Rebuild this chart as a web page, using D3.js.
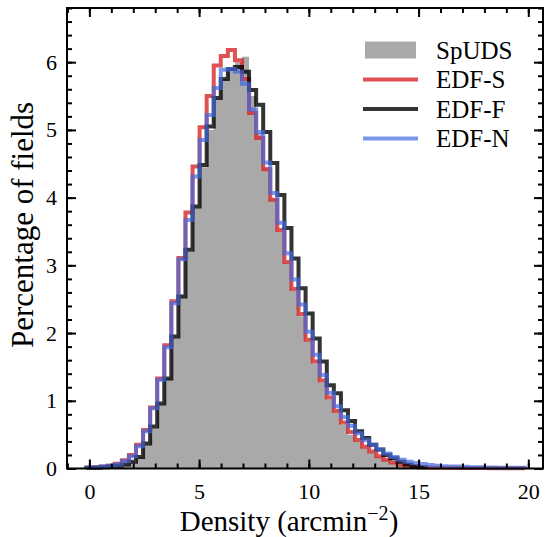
<!DOCTYPE html>
<html>
<head>
<meta charset="utf-8">
<script src="https://cdn.jsdelivr.net/npm/d3@7/dist/d3.min.js"></script>
<style>
  body { margin: 0; background: #fff; }
  text { font-family: "Liberation Serif", "DejaVu Serif", serif; fill: #000; }
</style>
</head>
<body>
<div id="chart"></div>
<script>
// bin layout of the histograms (arcmin^-2)
var binStart = -0.13, binWidth = 0.322;

// percentage of fields per bin
var spuds = [0, 0, 0.01, 0.02, 0.03, 0.05, 0.09, 0.17, 0.35, 0.6, 0.95, 1.33, 1.93, 2.52, 3.2, 3.85,
  4.45, 5.0, 5.45, 5.75, 5.9, 6.0, 6.08, 5.5, 4.95, 4.45, 3.98, 3.5, 3.03, 2.62, 2.25, 1.88,
  1.55, 1.27, 1.02, 0.82, 0.65, 0.5, 0.4, 0.3, 0.23, 0.17, 0.12, 0.08, 0.05, 0.03, 0.02, 0.01];
var edfS = [0.01, 0.02, 0.03, 0.04, 0.07, 0.12, 0.2, 0.35, 0.57, 0.9, 1.33, 1.82, 2.47, 3.11, 3.78, 4.46,
  5.04, 5.5, 5.95, 6.09, 6.18, 6.03, 5.75, 5.25, 4.88, 4.42, 3.97, 3.52, 3.05, 2.65, 2.28, 1.9,
  1.58, 1.3, 1.05, 0.85, 0.68, 0.54, 0.42, 0.32, 0.25, 0.18, 0.13, 0.09, 0.06, 0.04, 0.03, 0.02,
  0.015, 0.012, 0.01, 0.01, 0.01, 0.008, 0.008, 0.006, 0.006, 0.005, 0.005, 0.005, 0.004, 0.004];
var edfF = [0.01, 0.01, 0.02, 0.03, 0.04, 0.06, 0.1, 0.17, 0.37, 0.62, 0.96, 1.33, 1.95, 2.54, 3.23, 3.87,
  4.48, 5.05, 5.47, 5.75, 5.9, 5.93, 5.86, 5.59, 5.37, 4.97, 4.51, 4.04, 3.55, 3.1, 2.66, 2.29,
  1.92, 1.58, 1.23, 1.11, 0.86, 0.7, 0.55, 0.45, 0.35, 0.28, 0.2, 0.15, 0.1, 0.06, 0.03, 0.02];
var edfN = [0.01, 0.02, 0.03, 0.04, 0.06, 0.11, 0.18, 0.33, 0.55, 0.89, 1.31, 1.79, 2.44, 3.09, 3.67, 4.31,
  4.85, 5.22, 5.62, 5.89, 5.9, 5.86, 5.68, 5.3, 4.97, 4.52, 4.07, 3.63, 3.18, 2.79, 2.42, 2.02,
  1.68, 1.38, 1.12, 0.92, 0.76, 0.63, 0.52, 0.42, 0.35, 0.28, 0.22, 0.17, 0.13, 0.1, 0.08, 0.065,
  0.05, 0.04, 0.035, 0.03, 0.03, 0.025, 0.02, 0.02, 0.015, 0.015, 0.012, 0.01, 0.01, 0.01];

var xTicks = [0, 5, 10, 15, 20];
var yTicks = [0, 1, 2, 3, 4, 5, 6];
var legendLabels = ["SpUDS", "EDF-S", "EDF-F", "EDF-N"];

var W = 553, H = 537;
var frame = {left: 67, right: 543, top: 8, bottom: 468.5};

var svg = d3.select("#chart").append("svg")
  .attr("width", W)
  .attr("height", H);

var x = d3.scaleLinear().domain([-1.02, 20.67]).range([frame.left, frame.right]);
var y = d3.scaleLinear().domain([0, 6.8]).range([frame.bottom, frame.top]);

// step outline of a histogram, starting and ending on the baseline
function stepPoints(vals) {
  var pts = [[binStart, 0]];
  vals.forEach(function (v, i) { pts.push([binStart + i * binWidth, v]); });
  pts.push([binStart + vals.length * binWidth, 0]);
  return pts;
}

var step = d3.line()
  .x(function (d) { return x(d[0]); })
  .y(function (d) { return y(d[1]); })
  .curve(d3.curveStepAfter);

var plot = svg.append("g");

// filled SpUDS histogram
plot.append("path")
  .attr("d", step(stepPoints(spuds)) + "Z")
  .attr("fill", "#a9a9a9")
  .attr("stroke", "none");

var lines = [
  {vals: edfS, color: "#d62728", opacity: 0.8},
  {vals: edfF, color: "#000000", opacity: 0.8},
  {vals: edfN, color: "#4169e1", opacity: 0.7}
];

lines.forEach(function (l) {
  plot.append("path")
    .attr("d", step(stepPoints(l.vals)))
    .attr("fill", "none")
    .attr("stroke", l.color)
    .attr("stroke-opacity", l.opacity)
    .attr("stroke-width", 4)
    .attr("stroke-linejoin", "miter");
});

// axes: inward ticks on all four sides
var major = 9, minor = 5;
var xMinor = d3.range(-1, 21, 1), yMinor = d3.range(0, 6.81, 0.2);

function tickAxis(axis, pos, ticks, len, labelled, pad) {
  var a = axis.tickValues(ticks).tickSize(-len).tickPadding(pad || 0);
  a.tickFormat(labelled ? d3.format("d") : "");
  var g = svg.append("g").attr("transform", pos).call(a);
  g.select(".domain").remove();
  g.selectAll(".tick line").attr("stroke", "#000").attr("stroke-width", 2);
  g.selectAll("text").attr("font-size", 22).attr("font-family", "Liberation Serif, serif");
  return g;
}

var bottom = "translate(0," + frame.bottom + ")", topT = "translate(0," + frame.top + ")";
var leftT = "translate(" + frame.left + ",0)", rightT = "translate(" + frame.right + ",0)";

tickAxis(d3.axisBottom(x), bottom, xMinor, minor, false);
tickAxis(d3.axisBottom(x), bottom, xTicks, major, true, 15);
tickAxis(d3.axisTop(x), topT, xMinor, minor, false);
tickAxis(d3.axisTop(x), topT, xTicks, major, false);
tickAxis(d3.axisLeft(y), leftT, yMinor, minor, false);
tickAxis(d3.axisLeft(y), leftT, yTicks, major, true, 10);
tickAxis(d3.axisRight(y), rightT, yMinor, minor, false);
tickAxis(d3.axisRight(y), rightT, yTicks, major, false);

svg.append("rect")
  .attr("x", frame.left).attr("y", frame.top)
  .attr("width", frame.right - frame.left)
  .attr("height", frame.bottom - frame.top)
  .attr("fill", "none")
  .attr("stroke", "#000")
  .attr("stroke-width", 2);

// axis labels
var xl = svg.append("text")
  .attr("x", 289).attr("y", 530.5)
  .attr("text-anchor", "middle")
  .attr("font-size", 29)
  .text("Density (arcmin");
xl.append("tspan").attr("dy", -11).attr("font-size", 20).text("\u22122");
xl.append("tspan").attr("dy", 11).text(")");

svg.append("text")
  .attr("transform", "translate(33,225) rotate(-90)")
  .attr("text-anchor", "middle")
  .attr("font-size", 31)
  .text("Percentage of fields");

// legend
var leg = svg.append("g");
var legY = [50, 79.5, 109, 138.5];
leg.append("rect")
  .attr("x", 365).attr("y", legY[0] - 8.5)
  .attr("width", 51).attr("height", 17)
  .attr("fill", "#a9a9a9");
lines.forEach(function (l, i) {
  leg.append("line")
    .attr("x1", 363).attr("x2", 418)
    .attr("y1", legY[i + 1]).attr("y2", legY[i + 1])
    .attr("stroke", l.color)
    .attr("stroke-opacity", l.opacity)
    .attr("stroke-width", 4);
});
legendLabels.forEach(function (t, i) {
  leg.append("text")
    .attr("x", 436).attr("y", legY[i] + 8.5)
    .attr("font-size", 25)
    .text(t);
});
</script>
</body>
</html>
